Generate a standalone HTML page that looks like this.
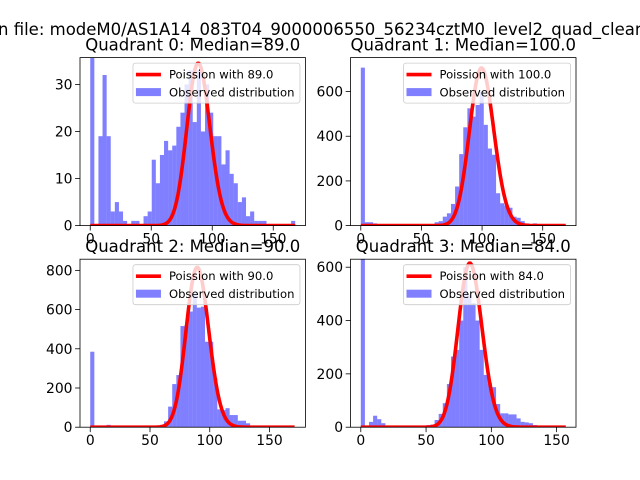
<!DOCTYPE html>
<html><head><meta charset="utf-8"><style>
body{margin:0;background:#fff}
svg{display:block;font-family:"DejaVu Sans","Liberation Sans",sans-serif}
</style></head><body>
<svg id="fig" width="640" height="480" viewBox="0 0 640 480">
<text x="-2" y="35" font-size="16.5" fill="#000">n file: modeM0/AS1A14_083T04_9000006550_56234cztM0_level2_quad_clean.evt</text>
</svg>
<script>
const titles = ["Quadrant 0: Median=89.0","Quadrant 1: Median=100.0","Quadrant 2: Median=90.0","Quadrant 3: Median=84.0"];
const medians = [89, 100, 90, 84];
const dataMax = [168, 169, 171.5, 157];
const curvePeak = [34.5, 705, 815, 615];
const yMaxes = [35.7, 752, 857, 630];
const yTicks0 = [0,10,20,30];
const yTicks1 = [0,200,400,600];
const yTicks2 = [0,200,400,600,800];
const yTicks3 = [0,200,400,600];
const xTicks = [0,50,100,150];
const counts0 = [36,0,19,32,19,3,5,3,1,0,1,1,0,2,3,14,9,15,18,16,17,21,24,30,33,22,33,20,30,24,19,19,13,16,11,9,5,6,2,3,1,1,1,0,0,0,0,0,0,1];
const counts1 = [707,15,15,10,5,3,3,3,3,3,3,3,3,3,3,3,5,5,15,20,40,55,97,175,320,440,525,488,540,600,451,345,317,145,100,90,80,40,35,20,10,5,10,5,3,3,2,1,1,1];
const counts2 = [385,0,0,0,12,0,0,0,0,0,0,0,0,0,0,2,8,12,30,105,220,266,516,520,590,680,610,615,436,436,250,91,87,97,62,62,33,33,20,8,5,3,2,1,1,1,1,0,0,1];
const counts3 = [700,0,20,43,30,15,5,3,2,2,2,5,3,5,5,5,8,10,27,50,90,162,265,290,400,600,495,465,400,290,196,165,150,87,52,52,48,48,33,20,18,15,8,3,2,1,1,0,0,1];

const allCounts=[counts0,counts1,counts2,counts3];
const allYTicks=[yTicks0,yTicks1,yTicks2,yTicks3];
const NS="http://www.w3.org/2000/svg";
const svg=document.getElementById('fig');
function mk(tag,attrs,parent){const e=document.createElementNS(NS,tag);for(const k in attrs)e.setAttribute(k,attrs[k]);(parent||svg).appendChild(e);return e;}
const axW=225.45, axH=168;
const lefts=[80,350.55,80,350.55], tops=[57.6,57.6,259.2,259.2];
function logGamma(n){let s=0;for(let i=2;i<=n;i++)s+=Math.log(i);return s;}
for(let q=0;q<4;q++){
  const L=lefts[q],T=tops[q],B=T+axH,R=L+axW;
  const counts=allCounts[q],xmax=dataMax[q],ymax=yMaxes[q];
  const xmin0=-0.05*xmax, xmax0=xmax*1.05;
  const xs=v=>L+(v-xmin0)/(xmax0-xmin0)*axW;
  const ys=v=>B-v/ymax*axH;
  const g=mk('g',{});
  
  
  const clipId='clip'+q;
  const cp=mk('clipPath',{id:clipId},g);mk('rect',{x:L,y:T,width:axW,height:axH},cp);
  const plot=mk('g',{'clip-path':'url(#'+clipId+')'},g);
  const bw=xmax/counts.length;
  counts.forEach((c,i)=>{
    if(c<=0)return;
    const r=mk('rect',{x:xs(i*bw),y:ys(c),width:xs((i+1)*bw)-xs(i*bw),height:B-ys(c),fill:'#0000ff','fill-opacity':0.5},plot);
    
    
  });
  const mu=medians[q];
  const peakPmf=Math.exp(mu*Math.log(mu)-mu-logGamma(Math.floor(mu)));
  let pts=[];
  for(let k=0;k<=Math.floor(xmax);k++){
    const p=Math.exp(k*Math.log(mu)-mu-logGamma(k));
    pts.push(xs(k).toFixed(2)+','+ys(p/peakPmf*curvePeak[q]).toFixed(2));
  }
  const pl=mk('polyline',{points:pts.join(' '),fill:'none',stroke:'#ff0000','stroke-width':3.6,'stroke-linejoin':'round'},plot);
  
  
  mk('rect',{x:L,y:T,width:axW,height:axH,fill:'none',stroke:'#000','stroke-width':0.8},g);
  xTicks.forEach(t=>{
    const x=xs(t);mk('line',{x1:x,x2:x,y1:B,y2:B+4.9,stroke:'#000','stroke-width':0.8},g);
    const tx=mk('text',{x:x,y:B+18,'font-size':13.9,'text-anchor':'middle'},g);tx.textContent=t;
    
    
  });
  allYTicks[q].forEach(t=>{
    const y=ys(t);mk('line',{x1:L-4.9,x2:L,y1:y,y2:y,stroke:'#000','stroke-width':0.8},g);
    const tx=mk('text',{x:L-7.5,y:y+5,'font-size':13.9,'text-anchor':'end'},g);tx.textContent=t;
    
    
  });
  const ti=mk('text',{x:L+axW/2,y:T-7,'font-size':16.5,'text-anchor':'middle'},g);ti.textContent=titles[q];
  
  
  const lg=mk('g',{},g);
  
  
  const lw=167,lh=40,lx=R-5.5-lw,ly=T+5.5;
  mk('rect',{x:lx,y:ly,width:lw,height:lh,rx:2.5,fill:'#fff','fill-opacity':0.8,stroke:'#cccccc','stroke-width':0.8},lg);
  mk('line',{x1:lx+3,x2:lx+28,y1:ly+11.5,y2:ly+11.5,stroke:'#ff0000','stroke-width':3.6},lg);
  const t1=mk('text',{x:lx+36,y:ly+15.5,'font-size':11.6},lg);t1.textContent='Poission with '+mu.toFixed(1);
  
  
  mk('rect',{x:lx+3,y:ly+25,width:25,height:8,fill:'#0000ff','fill-opacity':0.5},lg);
  const t2=mk('text',{x:lx+36,y:ly+33.5,'font-size':11.6},lg);t2.textContent='Observed distribution';
  
  
}
</script>
</body></html>
